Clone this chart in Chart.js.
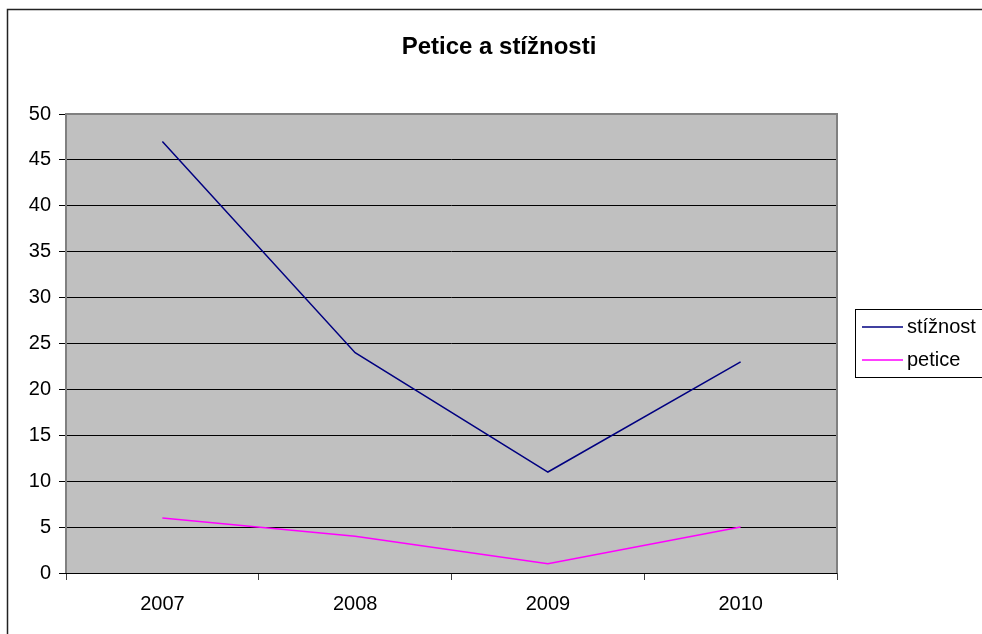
<!DOCTYPE html>
<html>
<head>
<meta charset="utf-8">
<script src="https://cdn.jsdelivr.net/npm/chart.js@4/dist/chart.umd.min.js"></script>
<style>
  html,body{margin:0;padding:0;background:#fff;}
  #wrap{width:982px;height:634px;position:relative;}
  canvas{display:block;}
</style>
</head>
<body>
<div id="wrap"><canvas id="c" width="982" height="634"></canvas></div>
<script>
const chartTitle = "Petice a stížnosti";
const years = ["2007", "2008", "2009", "2010"];
const seriesNames = ["stížnost", "petice"];
const stiznosti = [47, 24, 11, 23];
const petice = [6, 4, 1, 5];
const seriesColors = ["#000080", "#FF00FF"];
const yMin = 0, yMax = 50, yStep = 5;

const FONT = "'Liberation Sans', Arial, sans-serif";

const chromePlugin = {
  id: 'chrome',
  beforeDraw(chart) {
    const ctx = chart.ctx, a = chart.chartArea;
    ctx.save();
    ctx.fillStyle = '#ffffff';
    ctx.fillRect(0, 0, chart.width, chart.height);
    ctx.fillStyle = '#C0C0C0';
    ctx.fillRect(a.left, a.top, a.right - a.left, a.bottom - a.top);
    ctx.restore();
  },
  afterDraw(chart) {
    const ctx = chart.ctx, a = chart.chartArea;
    ctx.save();
    // plot border
    ctx.strokeStyle = '#808080';
    ctx.lineWidth = 2;
    ctx.beginPath();
    ctx.moveTo(a.left, a.bottom);
    ctx.lineTo(a.left, a.top);
    ctx.lineTo(a.right, a.top);
    ctx.lineTo(a.right, a.bottom);
    ctx.stroke();
    // bottom axis line
    ctx.strokeStyle = '#000';
    ctx.lineWidth = 1;
    ctx.beginPath();
    ctx.moveTo(a.left, a.bottom + 0.5);
    ctx.lineTo(a.right, a.bottom + 0.5);
    ctx.stroke();
    // outer chart border
    ctx.strokeStyle = '#222';
    ctx.lineWidth = 1.5;
    ctx.beginPath();
    ctx.moveTo(7.5, chart.height + 2);
    ctx.lineTo(7.5, 9.5);
    ctx.lineTo(chart.width + 2, 9.5);
    ctx.stroke();
    // title
    ctx.fillStyle = '#000';
    ctx.font = "bold 24px " + FONT;
    ctx.textAlign = 'center';
    ctx.textBaseline = 'middle';
    ctx.fillText(chartTitle, 499, 47);
    // legend
    const lx = 855.5, ly = 309.5, lh = 68;
    ctx.strokeStyle = '#000';
    ctx.lineWidth = 1;
    ctx.fillStyle = '#fff';
    ctx.fillRect(lx, ly, chart.width - lx + 5, lh);
    ctx.strokeRect(lx, ly, chart.width - lx + 5, lh);
    ctx.font = "20px " + FONT;
    ctx.textAlign = 'left';
    chart.data.datasets.forEach((ds, i) => {
      const y = 327 + i * 33;
      ctx.strokeStyle = ds.borderColor;
      ctx.lineWidth = 1.5;
      ctx.beginPath();
      ctx.moveTo(862, y);
      ctx.lineTo(903, y);
      ctx.stroke();
      ctx.fillStyle = '#000';
      ctx.fillText(ds.label, 907, y);
    });
    ctx.restore();
  }
};

new Chart(document.getElementById('c'), {
  type: 'line',
  data: {
    labels: years,
    datasets: [
      { label: seriesNames[0], data: stiznosti, borderColor: seriesColors[0], backgroundColor: seriesColors[0],
        borderWidth: 1.5, pointRadius: 0, tension: 0, fill: false },
      { label: seriesNames[1], data: petice, borderColor: seriesColors[1], backgroundColor: seriesColors[1],
        borderWidth: 1.5, pointRadius: 0, tension: 0, fill: false }
    ]
  },
  options: {
    responsive: false,
    animation: false,
    devicePixelRatio: 1,
    layout: { padding: { left: 0, right: 145, top: 114, bottom: 0 } },
    plugins: {
      legend: { display: false },
      title: { display: false },
      tooltip: { enabled: false }
    },
    scales: {
      x: {
        type: 'category',
        offset: true,
        afterFit(scale) { scale.height = 61; },
        grid: { offset: true, drawOnChartArea: false, drawTicks: true, tickLength: 7, color: '#404040', lineWidth: 1 },
        border: { display: false },
        ticks: { color: '#000', font: { family: FONT, size: 20 }, padding: 12, maxRotation: 0 }
      },
      y: {
        min: yMin, max: yMax,
        afterFit(scale) { scale.width = 66; },
        grid: { color: '#000', lineWidth: 1, drawTicks: true, tickLength: 7 },
        border: { display: false },
        ticks: { stepSize: yStep, color: '#000', font: { family: FONT, size: 20 }, padding: 8 }
      }
    }
  },
  plugins: [chromePlugin]
});
</script>
</body>
</html>
